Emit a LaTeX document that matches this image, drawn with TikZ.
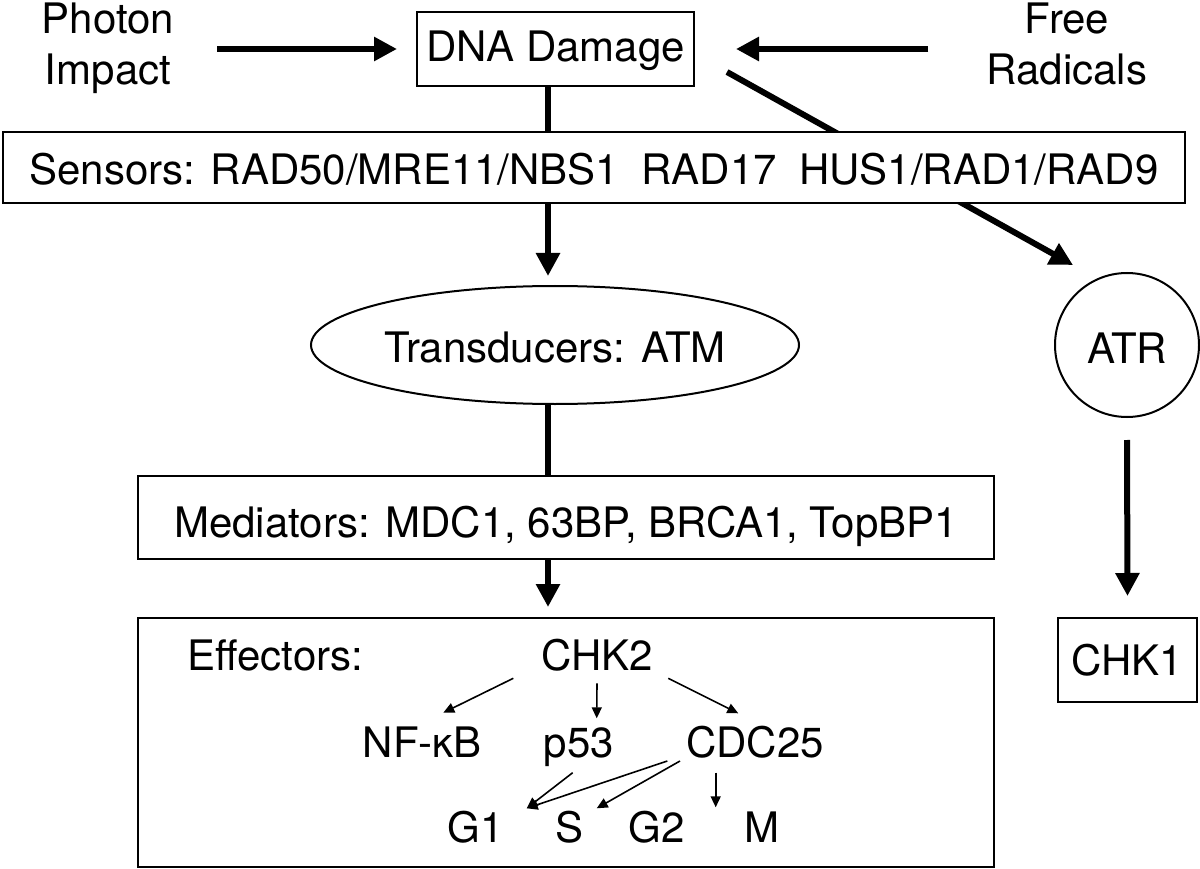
\documentclass[tikz,border=0pt]{standalone}
\usepackage{fontspec}
\setmainfont{TeX Gyre Heros}
\usetikzlibrary{arrows.meta,calc,shapes.geometric,backgrounds}
\begin{document}
\begin{tikzpicture}[x=1pt,y=-1pt,
  every node/.style={inner sep=0pt, outer sep=0pt, font=\fontsize{42}{51}\selectfont},
  box/.style={draw, line width=2pt, fill=white},
  thickarrow/.style={line width=6pt, -{Triangle[length=23pt,width=23pt]}},
  thickline/.style={line width=6pt},
  thinarrow/.style={line width=1.6pt, -{Triangle[length=11pt,width=10pt]}},
]
\useasboundingbox (0,0) rectangle (1200,869);

% top texts
\node[align=center, anchor=north] (photon) at (108,3) {Photon\\Impact};
\node[align=center, anchor=north] (free) at (1067,3) {Free\\Radicals};

% boxes
\node[box, anchor=north west, minimum width=277pt, text height=50pt, text depth=24pt] (dna) at (417,12) {DNA Damage};
\node[box, anchor=north west, minimum width=1182pt, text height=53pt, text depth=18pt] (sensor) at (3,132)
  {Sensors: RAD50/MRE11/NBS1\hspace{0.53em}RAD17\hspace{0.53em}HUS1/RAD1/RAD9};
\node[box, ellipse, minimum width=488pt, minimum height=118pt, text height=34pt, text depth=0pt] (trans) at (555,345) {Transducers: ATM};
\node[box, circle, minimum size=144pt, text height=36pt, text depth=0pt] (atr) at (1127,345) {ATR};
\node[box, anchor=north west, minimum width=856pt, text height=61pt, text depth=22pt] (med) at (138,476) {Mediators: MDC1, 63BP, BRCA1, TopBP1};
\node[box, anchor=north west, minimum width=856pt, minimum height=249pt] (eff) at (138,618) {};
\node[box, anchor=north west, minimum width=139pt, text height=57pt, text depth=27pt] (chk1) at (1058,618) {CHK1};

% effectors contents
\node[anchor=base west] (efflabel) at (187,670) {Effectors:};
\node[anchor=base] (chk2) at (597,670) {CHK2};
\node[anchor=base] (nfkb) at (422,757) {NF-κB};
\node[anchor=base] (p53) at (579,757) {p53};
\node[anchor=base] (cdc25) at (755,757) {CDC25};
\node[anchor=base] (nG1) at (476,842) {G1};
\node[anchor=base] (nS) at (570,842) {S};
\node[anchor=base] (nG2) at (657,842) {G2};
\node[anchor=base] (nM) at (762,842) {M};

% main axis
\coordinate (ax) at (548,0);
\draw[thickline] (ax |- dna.south) -- (ax |- sensor.north);
\draw[thickarrow] (ax |- sensor.south) -- ($(ax |- trans.north)+(0,-10)$);
\draw[thickline] (ax |- trans.south) -- (ax |- med.north);
\draw[thickarrow] (ax |- med.south) -- ($(ax |- eff.north)+(0,-11)$);

% inputs
\draw[thickarrow] ($(photon.east |- dna.west)+(43,0)$) -- ($(dna.west)+(-20,0)$);
\draw[thickarrow] ($(free.west |- dna.east)+(-58.5,0)$) -- ($(dna.east)+(42,0)$);

% ATR branch
\begin{scope}[on background layer]
\draw[thickarrow] ($(dna.east)+(33,23)$) -- ($(atr.north)+(-54,-8)$);
\end{scope}
\draw[thickarrow] ($(atr.south)+(0,23)$) -- ($(chk1.north)+(0,-22)$);

% effector arrows
\draw[thinarrow] ($(chk2.base)+(-83.7,8.3)$) -- ($(nfkb.base)+(21.3,-44.3)$);
\draw[thinarrow] ($(chk2.base)+(0,13.3)$) -- ($(p53.base)+(17.7,-38.7)$);
\draw[thinarrow] ($(chk2.base)+(71.3,8.3)$) -- ($(cdc25.base)+(-16.7,-43.7)$);
\draw[thinarrow] ($(p53.base)+(-6.3,15.7)$) -- ($(nG1.base)+(50.7,-33.7)$);
\draw[thinarrow] ($(cdc25.base)+(-87.7,4)$) -- ($(nG1.base)+(50.7,-33.7)$);
\draw[thinarrow] ($(cdc25.base)+(-75,4)$) -- ($(nS.base)+(26.7,-33.7)$);
\draw[thinarrow] ($(cdc25.base)+(-39.3,15.7)$) -- ($(nM.base)+(-46.3,-34.7)$);
\end{tikzpicture}
\end{document}
